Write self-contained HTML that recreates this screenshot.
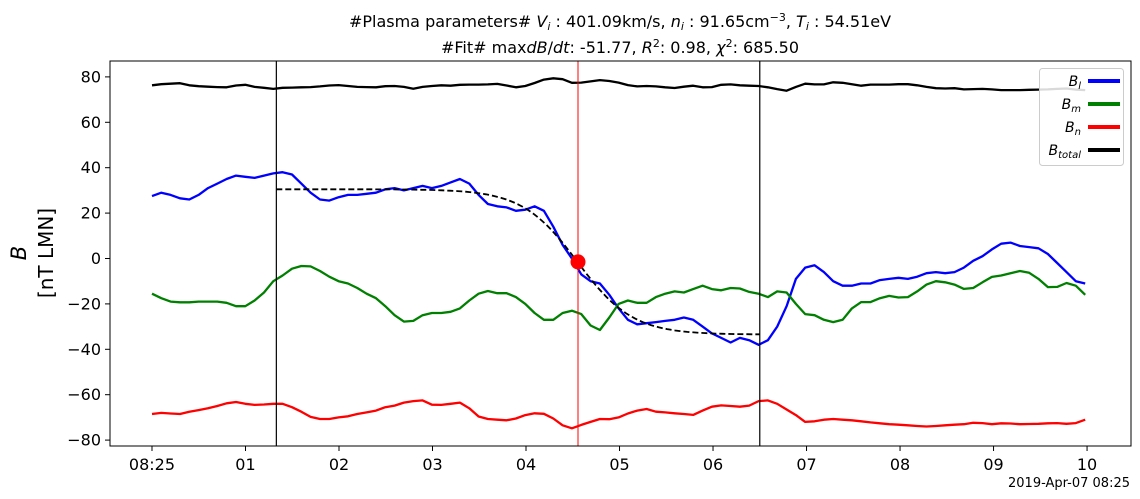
<!DOCTYPE html>
<html><head><meta charset="utf-8"><style>
html,body{margin:0;padding:0;background:#fff;}
svg{display:block;font-family:"DejaVu Sans","Liberation Sans",sans-serif;}
</style></head><body>
<svg id="chart" width="1140" height="499" viewBox="0 0 1140 499">
<text x="620" y="27" text-anchor="middle" font-size="16">#Plasma parameters# <tspan font-style="italic">V</tspan><tspan font-size="11" dy="3" font-style="italic">i</tspan><tspan dy="-3"> : 401.09km/s, </tspan><tspan font-style="italic">n</tspan><tspan font-size="11" dy="3" font-style="italic">i</tspan><tspan dy="-3"> : 91.65cm</tspan><tspan font-size="11" dy="-6">−3</tspan><tspan dy="6">, </tspan><tspan font-style="italic">T</tspan><tspan font-size="11" dy="3" font-style="italic">i</tspan><tspan dy="-3"> : 54.51eV</tspan></text>
<text x="620" y="53" text-anchor="middle" font-size="16">#Fit# max<tspan font-style="italic">dB</tspan>/<tspan font-style="italic">dt</tspan>: -51.77, <tspan font-style="italic">R</tspan><tspan font-size="11" dy="-6">2</tspan><tspan dy="6">: 0.98, </tspan><tspan font-style="italic">χ</tspan><tspan font-size="11" dy="-6">2</tspan><tspan dy="6">: 685.50</tspan></text>
<text x="26" y="253" text-anchor="middle" font-size="21" font-style="italic" transform="rotate(-90 26 253)">B</text>
<text x="53" y="253" text-anchor="middle" font-size="20" transform="rotate(-90 53 253)">[nT LMN]</text>
<text x="1130" y="487" text-anchor="end" font-size="13">2019-Apr-07 08:25</text>
<g id="plot"></g>
</svg>
<script>
const tickValuesY=[80,60,40,20,0,-20,-40,-60,-80];
const tickLabelsX=["08:25","01","02","03","04","05","06","07","08","09","10"];
const Bl=[27.5,29,28,26.5,26,28,31,33,35,36.5,
36,35.5,36.5,37.5,38,37,33,29,26,25.5,
27,28,28,28.5,29,30.5,31,30,31,32,
31,32,33.5,35,33,28,24,23,22.5,21,
21.5,23,21,14,6,0,-7,-10,-11,-16,
-22,-27,-29,-28.5,-28,-27.5,-27,-26,-27,-30,
-33,-35,-37,-35,-36,-38,-36,-30,-21,-9,
-4,-3,-6,-10,-12,-12,-11,-11,-9.5,-9,
-8.5,-9,-8,-6.5,-6,-6.5,-6,-4,-1,1,
4,6.5,7,5.5,5,4.5,2,-2,-6,-10,-11];
const Bm=[-15.5,-17.5,-19,-19.3,-19.3,-19,-19,-19,-19.5,-21,
-21,-18.5,-15,-10,-7.5,-4.5,-3.3,-3.5,-5.5,-8,
-10,-11,-13,-15.5,-17.5,-21,-25,-27.8,-27.5,-25,
-24,-24,-23.5,-22,-18.5,-15.5,-14.3,-15.3,-15.3,-17,
-20,-24,-27,-27,-24,-23,-24.5,-29.5,-31.5,-26,
-20,-18.5,-19.5,-19.5,-17,-15.5,-14.5,-15,-13.5,-12,
-13.5,-14,-13,-13.2,-14.7,-15.5,-17,-14.5,-15,-20,
-24.5,-25,-27,-28,-27,-22,-19.2,-19.2,-17.5,-16.5,
-17.2,-17,-14.5,-11.5,-10,-10.5,-11.5,-13.4,-13,-10.5,
-8.1,-7.5,-6.5,-5.5,-6.3,-9,-12.6,-12.5,-10.8,-12,-16];
const Bn=[-68.5,-68,-68.3,-68.5,-67.5,-66.8,-66,-65,-63.8,-63.2,
-64,-64.5,-64.3,-64,-64,-65.5,-67.5,-69.8,-70.7,-70.7,
-70,-69.5,-68.5,-67.8,-67,-65.5,-64.8,-63.5,-62.8,-62.5,
-64.4,-64.5,-64,-63.5,-66,-69.6,-70.7,-71,-71.3,-70.5,
-69,-68.2,-68.4,-70.5,-73.5,-74.8,-73.3,-72,-70.7,-70.8,
-70,-68.3,-67,-66.3,-67.5,-67.8,-68.2,-68.5,-68.9,-67,
-65.3,-64.7,-65,-65.3,-64.8,-62.8,-62.5,-64,-66.5,-69,
-72,-71.7,-71,-70.7,-71,-71.3,-71.7,-72.2,-72.6,-73,
-73.2,-73.5,-73.8,-74,-73.8,-73.5,-73.2,-73,-72.4,-72.5,
-73,-72.6,-72.7,-73,-72.9,-72.8,-72.6,-72.5,-72.8,-72.5,-71];
const Btot=[76.3,76.8,77,77.2,76.3,75.9,75.7,75.5,75.4,76.2,
76.5,75.6,75.2,74.7,75.2,75.3,75.4,75.5,75.8,76.2,
76.4,76,75.6,75.5,75.4,75.9,76,75.6,74.8,75.6,
76,76.3,76.1,76.5,76.6,76.6,76.7,76.9,76.2,75.4,
76,77.3,78.8,79.4,79,77.4,77.5,78,78.6,78.2,
77.5,76.4,75.8,76,75.8,75.4,75.1,75.7,76.1,75.4,
75.5,76.5,76.7,76.3,76.1,76,75.4,74.6,73.9,75.6,
77,76.7,76.7,77.6,77.4,76.8,76.1,76.6,76.6,76.6,
76.8,76.8,76.3,75.6,75,74.9,75,74.5,74.6,74.7,
74.5,74.2,74.2,74.2,74.3,74.4,74.5,74.7,74.9,74.4,74.2];
const fitStart=1.33, fitEnd=6.5, fitCenter=4.55, fitMid=-1.5, fitAmp=32, fitWidth=0.59;
const boundaryTimes=[1.33,6.5];
const centerTime=4.556;
const centerValue=-1.5;
const tEnd=9.98;

const L=110,R=1131,T=61,B=446;
const x0=-0.449,x1=10.47,y0=-82.6,y1=87;
const X=t=>L+(t-x0)/(x1-x0)*(R-L);
const Y=v=>B-(v-y0)/(y1-y0)*(B-T);
const NS="http://www.w3.org/2000/svg";
const g=document.getElementById('plot');
function mk(tag,attrs,parent){const e=document.createElementNS(NS,tag);for(const k in attrs)e.setAttribute(k,attrs[k]);(parent||g).appendChild(e);return e;}
const times=i=>i*tEnd/(Bl.length-1);

tickValuesY.forEach(v=>{
 const tl=mk('line',{x1:L-5,x2:L,y1:Y(v),y2:Y(v),stroke:'#000','stroke-width':1});
 
 
 const tx=mk('text',{x:L-9,y:Y(v)+5.5,'text-anchor':'end','font-size':16});
 tx.textContent=String(v).replace('-','−');
 
 
});
tickLabelsX.forEach((s,i)=>{
 const tl=mk('line',{x1:X(i),x2:X(i),y1:B,y2:B+5,stroke:'#000','stroke-width':1});
 
 
 const tx=mk('text',{x:X(i),y:B+24,'text-anchor':'middle','font-size':16});
 tx.textContent=s;
 
 
});

function series(arr,color,name){
 const d=arr.map((v,i)=>(i?'L':'M')+X(times(i)).toFixed(1)+' '+Y(v).toFixed(1)).join(' ');
 const p=mk('path',{d:d,fill:'none',stroke:color,'stroke-width':2.3,'stroke-linejoin':'round'});
 
 
}
series(Btot,'#000','btotal-line');
series(Bl,'#0000ff','bl-line');
series(Bm,'#008000','bm-line');
series(Bn,'#ff0000','bn-line');

let fd='';
for(let k=0;k<=120;k++){const t=fitStart+(fitEnd-fitStart)*k/120;const v=fitMid-fitAmp*Math.tanh((t-fitCenter)/fitWidth);fd+=(k?'L':'M')+X(t).toFixed(1)+' '+Y(v).toFixed(1)+' ';}
const fp=mk('path',{d:fd,fill:'none',stroke:'#000','stroke-width':1.8,'stroke-dasharray':'6,3'});



boundaryTimes.forEach(t=>{
 const l=mk('line',{x1:X(t),x2:X(t),y1:T,y2:B,stroke:'#000','stroke-width':1.2});
 
 
});
const rl=mk('line',{x1:X(centerTime),x2:X(centerTime),y1:T,y2:B,stroke:'#ff0000','stroke-width':1});


const dot=mk('circle',{cx:X(centerTime),cy:Y(centerValue),r:7.5,fill:'#ff0000'});



const frame=mk('rect',{x:L,y:T,width:R-L,height:B-T,fill:'none',stroke:'#000','stroke-width':1});



const lg=mk('g',{});


mk('rect',{x:1039.5,y:68.5,width:84,height:97,rx:3,fill:'#fff','fill-opacity':0.85,stroke:'#ccc'},lg);
const legendEntries=[['l','#0000ff'],['m','#008000'],['n','#ff0000'],['total','#000']];
legendEntries.forEach((e,i)=>{
 const y=81+i*23;
 const gi=mk('g',{},lg);
 
 
 mk('line',{x1:1088,x2:1120,y1:y,y2:y,stroke:e[1],'stroke-width':4},gi);
 const tx=mk('text',{x:1081,y:y+5,'text-anchor':'end','font-size':14,'font-style':'italic'},gi);
 tx.innerHTML='B<tspan font-size="10" dy="3">'+e[0]+'</tspan>';
});
</script>
</body></html>
